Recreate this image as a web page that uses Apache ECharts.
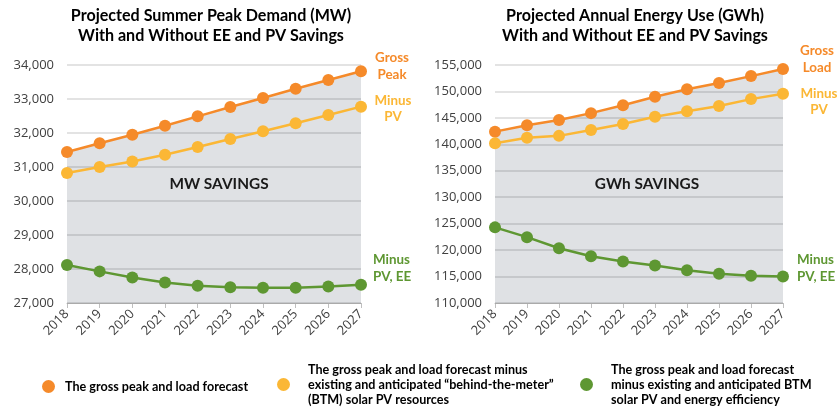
<!DOCTYPE html>
<html><head><meta charset="utf-8">
<script src="https://cdn.jsdelivr.net/npm/echarts@6/dist/echarts.min.js"></script>
<style>html,body{margin:0;padding:0;background:#fff}#c{width:839px;height:409px}</style>
</head><body><div id="c"></div>
<script>
const years = ['2018','2019','2020','2021','2022','2023','2024','2025','2026','2027'];
const mwGross     = [31440, 31700, 31950, 32215, 32490, 32765, 33030, 33300, 33560, 33815];
const mwMinusPV   = [30825, 31000, 31160, 31360, 31590, 31825, 32050, 32285, 32530, 32775];
const mwMinusPVEE = [28120, 27930, 27750, 27600, 27505, 27465, 27450, 27450, 27485, 27535];
const gwhGross     = [142400, 143600, 144600, 145900, 147400, 149000, 150400, 151600, 152900, 154250];
const gwhMinusPV   = [140200, 141250, 141600, 142700, 143850, 145200, 146250, 147250, 148550, 149550];
const gwhMinusPVEE = [124300, 122450, 120350, 118850, 117850, 117100, 116200, 115550, 115150, 115000];
const mwAxis = {min: 27000, max: 34000, interval: 1000};
const gwhAxis = {min: 110000, max: 155000, interval: 5000};
const titles = ['Projected Summer Peak Demand (MW)\nWith and Without EE and PV Savings',
                'Projected Annual Energy Use (GWh)\nWith and Without EE and PV Savings'];
const savingsText = ['MW SAVINGS', 'GWh SAVINGS'];
const endLabels = [['Gross\nPeak', 'Minus\nPV', 'Minus\nPV, EE'], ['Gross\nLoad', 'Minus\nPV', 'Minus\nPV, EE']];
const legendNames = [
  'The gross peak and load forecast',
  'The gross peak and load forecast minus\nexisting and anticipated \u201cbehind-the-meter\u201d\n(BTM) solar PV resources',
  'The gross peak and load forecast\nminus existing and anticipated BTM\nsolar PV and energy efficiency'
];
const colors = ['#f58a2a', '#fbb735', '#5e9732'];
const fillColor = '#dfe1e4';
const FONT = '"Open Sans", sans-serif';
const TFONT = 'Lato, "Open Sans", sans-serif';

// fit font sizes to reference text widths
const mctx = document.createElement('canvas').getContext('2d');
function fitSize(text, family, weight, targetW) {
  mctx.font = weight + ' 100px ' + family;
  return Math.round(100 * targetW / mctx.measureText(text).width * 10) / 10;
}
const titleSize = fitSize('Projected Summer Peak Demand (MW)', TFONT, 'bold', 281);
const savSize = fitSize('MW SAVINGS', TFONT, 'bold', 99);
const legSize = fitSize('The gross peak and load forecast', TFONT, 'bold', 183);
const endSize = fitSize('Gross', TFONT, 'bold', 34);

const chart = echarts.init(document.getElementById('c'), null, {renderer: 'canvas'});

const grids = [
  {left: 67, top: 65, width: 294, height: 238},
  {left: 495, top: 65, width: 288, height: 238}
];
function xAxis(i) {
  return {
    type: 'category', gridIndex: i, data: years, boundaryGap: false,
    axisLine: {lineStyle: {color: '#bfbfbf', width: 1}},
    axisTick: {show: true, length: 5, lineStyle: {color: '#bfbfbf'}},
    axisLabel: {rotate: 45, color: '#404040', fontFamily: FONT, fontSize: 13, margin: 9}
  };
}
function yAxis(i, ax) {
  return {
    type: 'value', gridIndex: i, min: ax.min, max: ax.max, interval: ax.interval, z: 2,
    axisLine: {show: false}, axisTick: {show: false},
    splitLine: {lineStyle: {color: 'rgba(0,0,0,0.15)', width: 1.5}},
    axisLabel: {color: '#404040', fontFamily: FONT, fontSize: 13, margin: 13,
      formatter: v => v.toLocaleString('en-US')}
  };
}
function seriesFor(i, gross, pv, pvee) {
  const list = [{
    type: 'line', xAxisIndex: i, yAxisIndex: i, data: gross, z: 1, silent: true,
    showSymbol: false, symbol: 'none', lineStyle: {width: 0, opacity: 0},
    areaStyle: {color: fillColor, opacity: 1}, tooltip: {show: false}
  }];
  [gross, pv, pvee].forEach((d, k) => list.push({
    type: 'line', name: legendNames[k], xAxisIndex: i, yAxisIndex: i, data: d, z: 3,
    symbol: 'circle', symbolSize: 12, color: colors[k],
    lineStyle: {width: 2.5, color: colors[k]}, itemStyle: {color: colors[k]}
  }));
  return list;
}

function txt(x, y, text, size, fill, align, lh) {
  return {type: 'text', x: x, y: y, z: 10, style: {text: text, fontSize: size, fill: fill, align: align,
    lineHeight: lh, fontFamily: TFONT, fontWeight: 'bold', verticalAlign: 'middle'}};
}
const graphic = [
  txt(211, 26, titles[0], titleSize, '#000', 'center', 20),
  txt(635, 26, titles[1], titleSize, '#000', 'center', 20),
  txt(219, 184, savingsText[0], savSize, '#1a1a1a', 'center', 18),
  txt(647, 184, savingsText[1], savSize, '#1a1a1a', 'center', 18),
  txt(392, 66, endLabels[0][0], endSize, colors[0], 'center', 17),
  txt(393, 109, endLabels[0][1], endSize, colors[1], 'center', 16),
  txt(373, 268, endLabels[0][2], endSize, colors[2], 'left', 17),
  txt(817, 59, endLabels[1][0], endSize, colors[0], 'center', 17),
  txt(819, 102, endLabels[1][1], endSize, colors[1], 'center', 16),
  txt(797, 268, endLabels[1][2], endSize, colors[2], 'left', 17)
];

const legendText = {fontFamily: TFONT, fontWeight: 'bold', fontSize: legSize, color: '#000', lineHeight: 15};
const legends = [
  {data: [legendNames[0]], left: 42, top: 379, pad: 5},
  {data: [legendNames[1]], left: 277, top: 362, pad: 13},
  {data: [legendNames[2]], left: 580, top: 362, pad: 13}
].map(l => ({
  data: l.data, left: l.left, top: l.top, icon: 'circle', itemWidth: 13, itemHeight: 13,
  selectedMode: false, padding: 0,
  textStyle: Object.assign({padding: [0, 0, 0, l.pad]}, legendText)
}));

chart.setOption({
  animation: false,
  backgroundColor: '#fff',
  grid: grids,
  xAxis: [xAxis(0), xAxis(1)],
  yAxis: [yAxis(0, mwAxis), yAxis(1, gwhAxis)],
  legend: legends,
  graphic: graphic,
  series: seriesFor(0, mwGross, mwMinusPV, mwMinusPVEE).concat(seriesFor(1, gwhGross, gwhMinusPV, gwhMinusPVEE))
});
</script></body></html>
